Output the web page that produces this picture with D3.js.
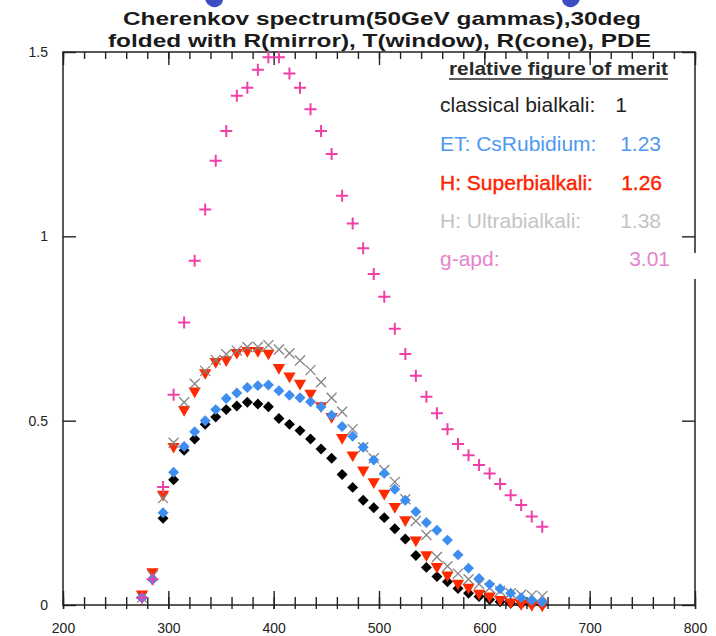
<!DOCTYPE html>
<html>
<head>
<meta charset="utf-8">
<script src="https://cdn.jsdelivr.net/npm/d3@7"></script>
<style>
	body { margin: 0; background: #fff; }
	svg { display: block; font-family: 'Liberation Sans', Arial, Helvetica, sans-serif; }
</style>
</head>
<body>
<svg id="canvas" width="716" height="636"></svg>
<script>
// wavelength in nm, one point every 10 nm
const wavelength = [275, 285, 295, 305, 315, 325, 335, 345, 355, 365, 375, 385, 395, 405, 415, 425, 435, 445, 455, 465,
	475, 485, 495, 505, 515, 525, 535, 545, 555, 565, 575, 585, 595, 605, 615, 625, 635, 645, 655];

const classicalBialkali = [0.02, 0.07, 0.235, 0.34, 0.42, 0.45, 0.49, 0.51, 0.53, 0.54, 0.55, 0.545, 0.538, 0.506, 0.49,
	0.473, 0.45, 0.423, 0.398, 0.354, 0.319, 0.284, 0.264, 0.237, 0.207, 0.179, 0.134, 0.102, 0.077, 0.063, 0.045, 0.032,
	0.023, 0.015, 0.009, 0.005, 0.003, 0.002, 0.001];

const csRubidium = [0.02, 0.07, 0.25, 0.36, 0.43, 0.47, 0.5, 0.53, 0.56, 0.575, 0.59, 0.595, 0.597, 0.581, 0.569, 0.562,
	0.551, 0.538, 0.515, 0.484, 0.458, 0.428, 0.393, 0.357, 0.314, 0.284, 0.253, 0.224, 0.203, 0.176, 0.136, 0.1, 0.072,
	0.056, 0.044, 0.032, 0.02, 0.013, 0.008];

const superBialkali = [0.03, 0.09, 0.3, 0.43, 0.53, 0.58, 0.63, 0.66, 0.665, 0.685, 0.69, 0.69, 0.683, 0.644, 0.621,
	0.601, 0.574, 0.54, 0.511, 0.454, 0.407, 0.366, 0.334, 0.303, 0.267, 0.231, 0.176, 0.136, 0.104, 0.081, 0.059, 0.048,
	0.032, 0.024, 0.015, 0.008, 0.004, 0.001, 0];

const ultraBialkali = [0.02, 0.08, 0.29, 0.44, 0.55, 0.6, 0.635, 0.665, 0.68, 0.69, 0.7, 0.7, 0.705, 0.693, 0.683, 0.663,
	0.637, 0.604, 0.562, 0.524, 0.477, 0.428, 0.398, 0.366, 0.334, 0.287, 0.228, 0.19, 0.13, 0.105, 0.085, 0.07, 0.057,
	0.046, 0.038, 0.032, 0.028, 0.026, 0.024];

const gApd = [0.02, 0.07, 0.32, 0.57, 0.766, 0.934, 1.073, 1.205, 1.286, 1.381, 1.403, 1.452, 1.486, 1.486, 1.442, 1.403,
	1.345, 1.286, 1.223, 1.11, 1.035, 0.968, 0.898, 0.836, 0.749, 0.681, 0.622, 0.565, 0.52, 0.477, 0.437, 0.406, 0.38,
	0.357, 0.328, 0.298, 0.271, 0.24, 0.212];

const xTicks = [200, 300, 400, 500, 600, 700, 800];
const xMinorTicks = d3.range(200, 801, 20);
const yTicks = [0, 0.5, 1, 1.5];

const titleLines = ['Cherenkov spectrum(50GeV gammas),30deg', 'folded with R(mirror), T(window), R(cone), PDE'];
const legendTitle = 'relative figure of merit';
const legendNames = ['classical bialkali:', 'ET: CsRubidium:', 'H: Superbialkali:', 'H: Ultrabialkali:', 'g-apd:'];
const legendValues = ['1', '1.23', '1.26', '1.38', '3.01'];

let svg = d3.select('#canvas');

let x = d3.scaleLinear().domain([200, 800]).range([63, 695]);
let y = d3.scaleLinear().domain([0, 1.5]).range([605, 52]);

// two blue blobs at the top edge of the slide
svg.selectAll('ellipse.blob')
	.data([214, 571])
	.enter()
	.append('ellipse')
	.attr('class', 'blob')
	.attr('cx', (d) => d)
	.attr('cy', -1)
	.attr('rx', 9)
	.attr('ry', 8)
	.attr('transform', (d, i) => 'rotate(' + (i === 0 ? 25 : -25) + ',' + d + ',-1)')
	.attr('fill', '#3c4cc2');

// title
svg.selectAll('text.title')
	.data(titleLines)
	.enter()
	.append('text')
	.attr('class', 'title')
	.attr('x', (d, i) => (i === 0 ? 123 : 108))
	.attr('y', (d, i) => (i === 0 ? 25 : 47))
	.attr('textLength', (d, i) => (i === 0 ? 518 : 543))
	.attr('lengthAdjust', 'spacingAndGlyphs')
	.attr('font-size', 19)
	.attr('font-weight', 'bold')
	.attr('fill', '#1a1a1a')
	.text((d) => d);

// frame
svg.append('rect')
	.attr('x', x(200))
	.attr('y', y(1.5))
	.attr('width', x(800) - x(200))
	.attr('height', y(0) - y(1.5))
	.attr('fill', 'none')
	.attr('stroke', '#222')
	.attr('stroke-width', 1.5);

// bottom axis: minor then major with labels
let bottomMinor = svg.append('g')
	.attr('transform', 'translate(0,' + y(0) + ')')
	.call(d3.axisBottom(x).tickValues(xMinorTicks).tickSizeInner(-8).tickSizeOuter(0).tickFormat(''));
bottomMinor.selectAll('line').attr('y1', 4);

let bottomMajor = svg.append('g')
	.attr('transform', 'translate(0,' + y(0) + ')')
	.call(d3.axisBottom(x).tickValues(xTicks).tickSizeInner(-14).tickSizeOuter(0).tickPadding(18).tickFormat(d3.format('d')));
bottomMajor.selectAll('line').attr('y1', 4);

// top axis ticks
svg.append('g')
	.attr('transform', 'translate(0,' + y(1.5) + ')')
	.call(d3.axisTop(x).tickValues(xMinorTicks).tickSizeInner(-7).tickSizeOuter(0).tickFormat(''));
svg.append('g')
	.attr('transform', 'translate(0,' + y(1.5) + ')')
	.call(d3.axisTop(x).tickValues(xTicks).tickSizeInner(-13).tickSizeOuter(0).tickFormat(''));

// left and right axes
svg.append('g')
	.attr('class', 'yaxis')
	.attr('transform', 'translate(' + x(200) + ',0)')
	.call(d3.axisLeft(y).tickValues(yTicks).tickSizeInner(-13).tickSizeOuter(0).tickPadding(15).tickFormat((d) => String(d)));
svg.append('g')
	.attr('transform', 'translate(' + x(800) + ',0)')
	.call(d3.axisRight(y).tickValues(yTicks).tickSizeInner(-13).tickSizeOuter(0).tickFormat(''));

svg.selectAll('.domain').remove();
svg.selectAll('.tick line').attr('stroke', '#222').attr('stroke-width', 1.4);
svg.selectAll('.tick text').attr('font-size', 14).attr('fill', '#222').attr('font-family', "'Liberation Sans', Arial, sans-serif");

// custom stroked symbols
const plusType = {
	draw: (ctx, size) => {
		let r = Math.sqrt(size) / 2;
		ctx.moveTo(-r, 0);
		ctx.lineTo(r, 0);
		ctx.moveTo(0, -r);
		ctx.lineTo(0, r);
	}
};
const timesType = {
	draw: (ctx, size) => {
		let r = Math.sqrt(size) / 2;
		ctx.moveTo(-r, -r);
		ctx.lineTo(r, r);
		ctx.moveTo(-r, r);
		ctx.lineTo(r, -r);
	}
};

let series = [
	{ name: 'classical', values: classicalBialkali, type: d3.symbolSquare, size: 60, rot: 45, fill: '#000', stroke: 'none' },
	{ name: 'super', values: superBialkali, type: d3.symbolTriangle, size: 66, rot: 180, fill: '#ff2a00', stroke: 'none' },
	{ name: 'ultra', values: ultraBialkali, type: timesType, size: 100, rot: 0, fill: 'none', stroke: '#858585', width: 1.3 },
	{ name: 'csrb', values: csRubidium, type: d3.symbolSquare, size: 60, rot: 45, fill: '#3d8ef0', stroke: 'none' },
	{ name: 'gapd', values: gApd, type: plusType, size: 144, rot: 0, fill: 'none', stroke: '#f03fa6', width: 2 }
];

series.forEach((s) => {
	let symbol = d3.symbol().type(s.type).size(s.size);
	svg.append('g')
		.attr('class', 'series-' + s.name)
		.selectAll('path')
		.data(wavelength.map((w, i) => [w, s.values[i]]))
		.enter()
		.append('path')
		.attr('d', symbol)
		.attr('transform', (d) => 'translate(' + x(d[0]) + ',' + y(d[1]) + ') rotate(' + s.rot + ')')
		.attr('fill', s.fill)
		.attr('stroke', s.stroke)
		.attr('stroke-width', s.width || 0);
});

// figure of merit legend (its white box cuts the right frame next to 3.01)
svg.append('rect')
	.attr('x', 690)
	.attr('y', 253)
	.attr('width', 10)
	.attr('height', 26)
	.attr('fill', '#fff');

svg.append('text')
	.attr('x', 449)
	.attr('y', 75)
	.attr('font-size', 19)
	.attr('font-weight', 'bold')
	.attr('fill', '#2a2a2a')
	.attr('textLength', 219)
	.attr('lengthAdjust', 'spacingAndGlyphs')
	.text(legendTitle);
svg.append('line')
	.attr('x1', 449)
	.attr('x2', 668)
	.attr('y1', 79)
	.attr('y2', 79)
	.attr('stroke', '#2a2a2a')
	.attr('stroke-width', 1.5);

const legendColors = ['#222', '#4f98f2', '#ff2200', '#c4c4c4', '#e483cf'];
const legendY = [112, 151, 190, 228, 266];
const valueX = [627, 661, 662, 661, 670];

legendNames.forEach((name, i) => {
	svg.append('text')
		.attr('x', 440)
		.attr('y', legendY[i])
		.attr('font-size', 21)
		.attr('fill', legendColors[i])
		.attr('stroke', i === 2 ? legendColors[i] : 'none')
		.attr('stroke-width', 0.4)
		.text(name);
	svg.append('text')
		.attr('x', valueX[i])
		.attr('y', legendY[i])
		.attr('text-anchor', 'end')
		.attr('font-size', 21)
		.attr('fill', legendColors[i])
		.attr('stroke', i === 2 ? legendColors[i] : 'none')
		.attr('stroke-width', 0.4)
		.text(legendValues[i]);
});
</script>
</body>
</html>
